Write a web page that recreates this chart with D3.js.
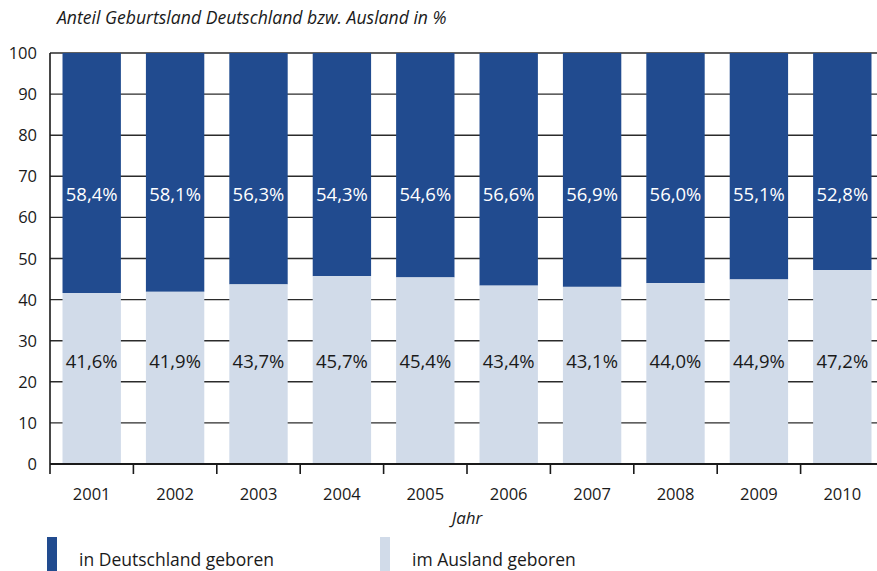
<!DOCTYPE html>
<html>
<head>
<meta charset="utf-8">
<script src="https://cdn.jsdelivr.net/npm/d3@7"></script>
<style>
  body { margin: 0; background: #fff; }
  svg { display: block; font-family: "Open Sans", "DejaVu Sans", sans-serif; }
</style>
</head>
<body>
<div id="container"></div>
<script>
// data
var years = ["2001", "2002", "2003", "2004", "2005", "2006", "2007", "2008", "2009", "2010"];
var inland = [58.4, 58.1, 56.3, 54.3, 54.6, 56.6, 56.9, 56.0, 55.1, 52.8];
var ausland = [41.6, 41.9, 43.7, 45.7, 45.4, 43.4, 43.1, 44.0, 44.9, 47.2];
var yTicks = [0, 10, 20, 30, 40, 50, 60, 70, 80, 90, 100];
var seriesNames = ["in Deutschland geboren", "im Ausland geboren"];

const width = 877;
const height = 571;
const dark = "#214b8f";
const light = "#d1dbe9";

const svg = d3.select("div#container").append("svg")
    .attr("width", width)
    .attr("height", height);

//----------------------------SCALES----------------------------//
const xScale = d3.scaleBand()
    .domain(years)
    .range([50, 884])
    .paddingInner(0.3)
    .paddingOuter(0.15);

const yScale = d3.scaleLinear()
    .domain([0, 100])
    .range([464, 53]);

const step = xScale.step();
const x0 = 50;

//---------------------------GRID-------------------------------//
svg.append("g")
  .selectAll("line")
  .data(yTicks.filter(function(d) { return d > 0; }))
  .enter()
  .append("line")
    .attr("x1", x0)
    .attr("x2", width)
    .attr("y1", function(d) { return yScale(d); })
    .attr("y2", function(d) { return yScale(d); })
    .attr("stroke", "#2b2b2b")
    .attr("stroke-width", 1.4);

//---------------------------BARS-------------------------------//
const bars = svg.append("g")
  .selectAll("g")
  .data(years)
  .enter()
  .append("g");

bars.append("rect")
    .attr("x", function(d) { return xScale(d); })
    .attr("width", xScale.bandwidth())
    .attr("y", yScale(100))
    .attr("height", function(d, i) { return yScale(ausland[i]) - yScale(100); })
    .attr("fill", dark);

bars.append("rect")
    .attr("x", function(d) { return xScale(d); })
    .attr("width", xScale.bandwidth())
    .attr("y", function(d, i) { return yScale(ausland[i]); })
    .attr("height", function(d, i) { return yScale(0) - yScale(ausland[i]); })
    .attr("fill", light);

const fmt = function(v) { return v.toFixed(1).replace(".", ",") + "%"; };

bars.append("text")
    .attr("x", function(d) { return xScale(d) + xScale.bandwidth() / 2; })
    .attr("y", yScale(64.1))
    .attr("text-anchor", "middle")
    .attr("fill", "#fff")
    .style("font-size", "18.5px")
    .text(function(d, i) { return fmt(inland[i]); });

bars.append("text")
    .attr("x", function(d) { return xScale(d) + xScale.bandwidth() / 2; })
    .attr("y", yScale(23.4))
    .attr("text-anchor", "middle")
    .attr("fill", "#1a1a1a")
    .style("font-size", "18.5px")
    .text(function(d, i) { return fmt(ausland[i]); });

//-----------------------------AXES-----------------------------//
// baseline
svg.append("line")
    .attr("x1", x0).attr("x2", width)
    .attr("y1", yScale(0)).attr("y2", yScale(0))
    .attr("stroke", "#1a1a1a").attr("stroke-width", 2);

// y axis line
svg.append("line")
    .attr("x1", x0).attr("x2", x0)
    .attr("y1", yScale(100)).attr("y2", yScale(0) + 10)
    .attr("stroke", "#1a1a1a").attr("stroke-width", 1.6);

// x ticks between bands
svg.append("g")
  .selectAll("line")
  .data(years.slice(1))
  .enter()
  .append("line")
    .attr("x1", function(d) { return xScale(d) - (step - xScale.bandwidth()) / 2; })
    .attr("x2", function(d) { return xScale(d) - (step - xScale.bandwidth()) / 2; })
    .attr("y1", yScale(0))
    .attr("y2", yScale(0) + 10)
    .attr("stroke", "#1a1a1a").attr("stroke-width", 1.6);

// y labels
svg.append("g")
  .selectAll("text")
  .data(yTicks)
  .enter()
  .append("text")
    .attr("x", 37)
    .attr("y", function(d) { return yScale(d) + 6; })
    .attr("text-anchor", "end")
    .attr("fill", "#1a1a1a")
    .style("font-size", "16.5px")
    .text(function(d) { return d; });

// x labels
svg.append("g")
  .selectAll("text")
  .data(years)
  .enter()
  .append("text")
    .attr("x", function(d) { return xScale(d) + xScale.bandwidth() / 2; })
    .attr("y", 500)
    .attr("text-anchor", "middle")
    .attr("fill", "#1a1a1a")
    .style("font-size", "16.5px")
    .text(function(d) { return d; });

// titles
svg.append("text")
    .attr("x", 57).attr("y", 24)
    .attr("fill", "#1a1a1a")
    .style("font-size", "17.6px")
    .style("font-style", "italic")
    .text("Anteil Geburtsland Deutschland bzw. Ausland in %");

svg.append("text")
    .attr("x", 467).attr("y", 524)
    .attr("text-anchor", "middle")
    .attr("fill", "#1a1a1a")
    .style("font-size", "17px")
    .style("font-style", "italic")
    .text("Jahr");

//---------------------------LEGEND-----------------------------//
const legend = svg.append("g")
  .selectAll("g")
  .data(seriesNames)
  .enter()
  .append("g")
    .attr("transform", function(d, i) { return "translate(" + (i === 0 ? 47 : 380) + ",537)"; });

legend.append("rect")
    .attr("width", 10)
    .attr("height", 40)
    .attr("fill", function(d, i) { return i === 0 ? dark : light; });

legend.append("text")
    .attr("x", 32)
    .attr("y", 29)
    .attr("fill", "#1a1a1a")
    .style("font-size", "17.5px")
    .text(function(d) { return d; });
</script>
</body>
</html>
